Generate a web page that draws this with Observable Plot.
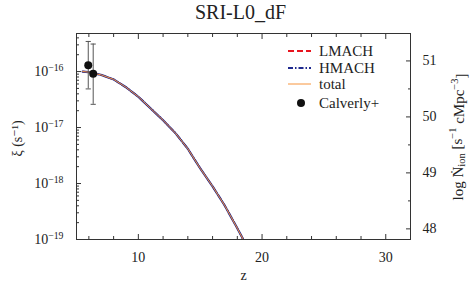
<!DOCTYPE html>
<html><head><meta charset="utf-8">
<script src="https://cdn.jsdelivr.net/npm/d3@7"></script>
<script src="https://cdn.jsdelivr.net/npm/@observablehq/plot@0.6"></script>
<style>
html,body{margin:0;padding:0;background:#fff;}
#chart{position:relative;width:470px;height:285px;font-family:'Liberation Serif','DejaVu Serif',serif;color:#222;}
#chart svg, #chart svg text{font-family:'Liberation Serif','DejaVu Serif',serif !important;}
.lg{position:absolute;left:287px;height:16px;display:flex;align-items:center;font-size:15px;line-height:16px;}
.lg svg{width:25px;height:10px;margin-right:7px;}
</style></head><body><div id="chart"></div>
<script>
// ---- data ----
const z        = [5.5, 6, 7, 8, 9, 10, 11, 12, 13, 14, 15, 16, 17, 18, 18.6];
const logLMACH = [-16.00, -16.01, -16.06, -16.14, -16.28, -16.45, -16.66, -16.87, -17.10, -17.38, -17.73, -18.05, -18.40, -18.80, -19.05];
const logHMACH = [-16.00, -16.01, -16.06, -16.14, -16.28, -16.45, -16.66, -16.87, -17.10, -17.38, -17.73, -18.05, -18.40, -18.80, -19.05];
const logTotal = [-16.00, -16.01, -16.06, -16.14, -16.28, -16.45, -16.66, -16.87, -17.10, -17.38, -17.73, -18.05, -18.40, -18.80, -19.05];
const obsZ  = [5.95, 6.35];
const obsXi = [1.3e-16, 9.1e-17];
const obsHi = [3.45e-16, 3.1e-16];
const obsLo = [4.9e-17, 2.6e-17];
const xMajor = [10, 20, 30];
const xMinor = [6, 8, 12, 14, 16, 18, 22, 24, 26, 28];
const yMajorExp = [-19, -18, -17, -16];
const rightMajor = [48, 49, 50, 51];
const rightMinor = [48.5, 49.5, 50.5];
const rightOffset = 66.81; // log Ndot_ion = log xi + offset
const title = "SRI-L0_dF";
const legendLabels = ["LMACH", "HMACH", "total", "Calverly+"];

// ---- derived tables ----
const curves = z.map((zz, i) => ({z: zz, LMACH: 10 ** logLMACH[i], HMACH: 10 ** logHMACH[i], total: 10 ** logTotal[i]}));
const obs = obsZ.map((zz, i) => ({z: zz, xi: obsXi[i], hi: obsHi[i], lo: obsLo[i]}));
const yDomain = [1e-19, 10 ** -15.32];
const yMajor = yMajorExp.map(e => 10 ** e);
const yMinor = [];
yMajorExp.forEach(e => { for (let m = 2; m <= 9; m++) { const v = m * 10 ** e; if (v <= yDomain[1]) yMinor.push(v); } });
const toXi = v => 10 ** (v - rightOffset);
const sup = s => s.replace(/-/g, "⁻").replace(/\d/g, d => "⁰¹²³⁴⁵⁶⁷⁸⁹"[d]);
const cap = {draw(ctx, size) { const r = Math.sqrt(size / Math.PI); ctx.moveTo(-r, 0); ctx.lineTo(r, 0); }};
const ink = "#333";
const errCol = "#555";
const serif = "'Liberation Serif','DejaVu Serif',serif";
const colors = {LMACH: "#e8141e", HMACH: "#1f2a8f", total: "#f7943c"};

const plot = Plot.plot({
  width: 470, height: 285,
  marginLeft: 76, marginRight: 60, marginTop: 33, marginBottom: 46,
  style: {fontFamily: serif, fontSize: "14px", color: "#222", background: "white", overflow: "visible"},
  x: {domain: [5, 32]},
  y: {type: "log", domain: yDomain},
  marks: [
    Plot.line(curves, {x: "z", y: "LMACH", stroke: colors.LMACH, strokeWidth: 1.5, strokeDasharray: "6,3", clip: true}),
    Plot.line(curves, {x: "z", y: "HMACH", stroke: colors.HMACH, strokeWidth: 2.2, strokeDasharray: "6,1.5,1.5,1.5", clip: true}),
    Plot.line(curves, {x: "z", y: "total", stroke: colors.total, strokeWidth: 1, clip: true}),
    Plot.ruleX(obs, {x: "z", y1: "lo", y2: "hi", stroke: errCol, strokeWidth: 1}),
    Plot.dot(obs, {x: "z", y: "hi", r: 2.6, symbol: cap, stroke: errCol, strokeWidth: 1, fill: "none"}),
    Plot.dot(obs, {x: "z", y: "lo", r: 2.6, symbol: cap, stroke: errCol, strokeWidth: 1, fill: "none"}),
    Plot.dot(obs, {x: "z", y: "xi", r: 4, fill: "#111", stroke: null}),
    Plot.frame({stroke: ink, strokeWidth: 1}),
    Plot.axisX(xMajor, {anchor: "bottom", tickSize: -5, tickPadding: 18, label: null, stroke: ink, tickFormat: d => String(d), fontSize: 14, fontFamily: serif}),
    Plot.axisX(xMinor, {anchor: "bottom", tickSize: -3, label: null, stroke: ink, tickFormat: () => ""}),
    Plot.axisX(xMajor, {anchor: "top", tickSize: -5, label: null, stroke: ink, tickFormat: () => ""}),
    Plot.axisX(xMinor, {anchor: "top", tickSize: -3, label: null, stroke: ink, tickFormat: () => ""}),
    Plot.axisY(yMajor, {anchor: "left", tickSize: -5, tickPadding: 18, label: null, stroke: ink, tickFormat: d => "10" + sup(String(Math.round(Math.log10(d)))), fontSize: 14, fontFamily: serif}),
    Plot.axisY(yMinor, {anchor: "left", tickSize: -3, label: null, stroke: ink, tickFormat: () => ""}),
    Plot.axisY(rightMajor.map(toXi), {anchor: "right", tickSize: -5, tickPadding: 17, label: null, stroke: ink, tickFormat: d => String(Math.round(Math.log10(d) + rightOffset)), fontSize: 14, fontFamily: serif}),
    Plot.axisY(rightMinor.map(toXi), {anchor: "right", tickSize: -3, label: null, stroke: ink, tickFormat: () => ""}),
    Plot.text([title], {frameAnchor: "top", dy: -21, dx: -3, fontSize: 20, fontFamily: serif, lineAnchor: "middle", fill: "#222"}),
    Plot.text(["z"], {frameAnchor: "bottom", dy: 36, fontSize: 14, fontFamily: serif, lineAnchor: "middle", fill: "#222"}),
    Plot.text(["ξ (s⁻¹)"], {frameAnchor: "left", dx: -59, dy: 2, rotate: -90, textAnchor: "middle", fontSize: 14, fontFamily: serif, lineAnchor: "middle", fill: "#222"})
  ]
});

// superscripts as tspans for the left tick labels
d3.select(plot).selectAll("text").each(function() {
  const t = this.textContent;
  if (/^10[⁻⁰¹²³⁴⁵⁶⁷⁸⁹]+$/.test(t)) {
    const map = {"⁻": "−", "⁰": "0", "¹": "1", "²": "2", "³": "3", "⁴": "4", "⁵": "5", "⁶": "6", "⁷": "7", "⁸": "8", "⁹": "9"};
    const ex = t.slice(2).split("").map(c => map[c]).join("");
    const sel = d3.select(this);
    this.textContent = "";
    sel.append("tspan").text("10");
    sel.append("tspan").attr("dy", "-0.5em").attr("font-size", "70%").text(ex);
  }
});

// right axis title with sub/superscripts
const rt = d3.select(plot).append("text")
  .attr("transform", "translate(460,137) rotate(-90)")
  .attr("text-anchor", "middle").attr("dominant-baseline", "middle")
  .attr("font-size", 15).attr("fill", "#222").attr("font-family", serif);
rt.append("tspan").text("log Ṅ");
rt.append("tspan").attr("dy", "0.3em").attr("font-size", "70%").text("ion");
rt.append("tspan").attr("dy", "-0.3em").text(" [s");
rt.append("tspan").attr("dy", "-0.45em").attr("font-size", "70%").text("−1");
rt.append("tspan").attr("dy", "0.45em").text(" cMpc");
rt.append("tspan").attr("dy", "-0.45em").attr("font-size", "70%").text("−3");
rt.append("tspan").attr("dy", "0.45em").text("]");

const chart = document.getElementById("chart");
chart.appendChild(plot);

// legend
const rowsTop = [43, 59.5, 76, 95];
const samples = [
  `<line x1="1" y1="5" x2="24" y2="5" stroke="${colors.LMACH}" stroke-width="1.8" stroke-dasharray="6,3"/>`,
  `<line x1="1" y1="5" x2="24" y2="5" stroke="${colors.HMACH}" stroke-width="2" stroke-dasharray="5,2,1.5,2"/>`,
  `<line x1="1" y1="5" x2="24" y2="5" stroke="${colors.total}" stroke-width="1"/>`,
  `<circle cx="14" cy="5" r="4" fill="#111"/>`
];
legendLabels.forEach((lab, i) => {
  const d = document.createElement("div");
  d.className = "lg";
  d.style.top = rowsTop[i] + "px";
  d.innerHTML = `<svg viewBox="0 0 25 10">${samples[i]}</svg><span>${lab}</span>`;
  chart.appendChild(d);
});
</script></body></html>
